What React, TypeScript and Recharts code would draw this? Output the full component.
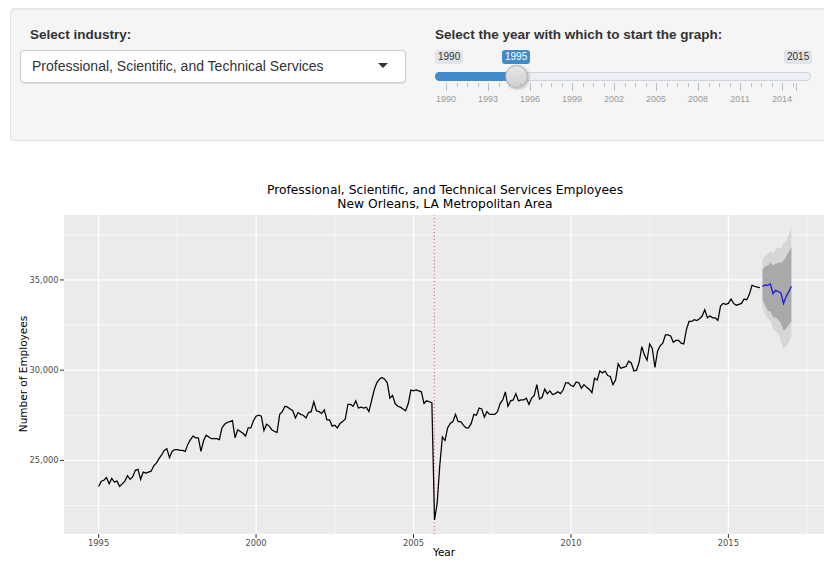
import React from 'react';
import {
  ComposedChart,
  Line,
  Area,
  XAxis,
  YAxis,
  CartesianGrid,
  ReferenceLine,
} from 'recharts';

// Monthly employees, Jan 1995 .. Jan 2016
const emp1995_1999 = [
  23550, 23850, 23900, 24050, 23700, 24000, 23800, 23850, 23550, 23700, 23850, 24150,
  23950, 24100, 24450, 24500, 23950, 24350, 24300, 24350, 24400, 24700, 24850, 25100,
  25300, 25550, 25650, 25150, 25500, 25600, 25600, 25550, 25550, 25500, 25900, 26150,
  26350, 26250, 26250, 25500, 26100, 26400, 26300, 26200, 26200, 26200, 26150, 26800,
  27000, 27100, 27150, 27200, 26250, 26700, 26600, 26500, 26350, 26800, 26800, 27200,
];
const emp2000_2004 = [
  27450, 27500, 27450, 26650, 27000, 26900, 26700, 26600, 26550, 27550, 27700, 28000,
  27950, 27850, 27750, 27350, 27650, 27550, 27500, 27350, 27650, 27700, 28250, 27750,
  27700, 27600, 27800, 27250, 27250, 26900, 26950, 26800, 27050, 27150, 27300, 28100,
  28100, 28000, 28300, 27900, 27950, 27900, 27950, 27700, 28300, 28900, 29300, 29500,
  29600, 29500, 29300, 28450, 28600, 28150, 28000, 27950, 27850, 27750, 28150, 28900,
];
const emp2005_2009 = [
  28850, 28900, 28850, 28800, 28150, 28300, 28250, 28200, 21700, 22600, 24700, 26300,
  26100, 26800, 27050, 27150, 27550, 27150, 27150, 26950, 26800, 26800, 27050, 27550,
  27500, 27900, 27850, 27400, 27700, 27550, 27550, 27550, 27700, 28150, 28350, 28800,
  28000, 28300, 28350, 28700, 28300, 28350, 28350, 28450, 28100, 28450, 28600, 29200,
  28400, 28500, 28950, 28700, 28850, 28650, 28700, 28800, 28700, 28900, 29300, 29300,
];
const emp2010_2016 = [
  29150, 29100, 29350, 29300, 29000, 29200, 29050, 28950, 28750, 29550, 29450, 29950,
  29850, 29950, 29700, 29650, 29200, 29450, 30350, 30100, 30150, 30200, 30500, 30400,
  29950, 30000, 30450, 31300, 30850, 30550, 31450, 31200, 30150, 31050, 31350, 31500,
  31950, 31950, 31900, 31550, 31650, 31650, 31500, 31450, 32250, 32700, 32700, 32800,
  32750, 32850, 33000, 33350, 32900, 33000, 32900, 32900, 32750, 33550, 33700, 33650,
  33700, 33950, 33700, 33600, 33650, 33700, 33950, 33900, 34200, 34700, 34650, 34600,
  34580,
];

// Forecast Feb 2016 .. Jan 2017
const forecastMean = [34650, 34720, 34700, 34780, 34250, 34420, 34350, 34280, 33700, 34080, 34350, 34650];
const hi80 = [35600, 35750, 35800, 35950, 35800, 35900, 35950, 35950, 36050, 36300, 36550, 36800];
const lo80 = [33900, 33600, 33300, 33250, 32950, 32900, 32800, 32600, 32200, 32300, 32550, 32700];
const hi95 = [36100, 36350, 36450, 36600, 36500, 36700, 36800, 36750, 37050, 37150, 37500, 37850];
const lo95 = [33500, 33100, 32850, 32750, 32300, 32150, 32000, 31650, 31200, 31300, 31550, 31900];

const xTicks = [1995, 2000, 2005, 2010, 2015];
const xMinor = [1997.5, 2002.5, 2007.5, 2012.5, 2017.5];
const yTicks = [25000, 30000, 35000];
const yMinor = [22500, 27500, 32500, 37500];
const katrina = 2005.66;

const sliderLabels = [1990, 1993, 1996, 1999, 2002, 2005, 2008, 2011, 2014];

const titleLines = [
  'Professional, Scientific, and Technical Services Employees',
  'New Orleans, LA Metropolitan Area',
];

const historical = [...emp1995_1999, ...emp2000_2004, ...emp2005_2009, ...emp2010_2016];

const data: any[] = [
  ...historical.map((v, i) => ({ t: 1995 + i / 12, value: v })),
  ...forecastMean.map((v, i) => ({
    t: 2016 + (i + 1) / 12,
    fc: v,
    band80: [lo80[i], hi80[i]],
    band95: [lo95[i], hi95[i]],
  })),
];

const fmt = (v: number) => v.toLocaleString('en-US');

const uiFont = '"Liberation Sans", Arial, Helvetica, sans-serif';
const chartFont = '"DejaVu Sans", sans-serif';

// slider geometry
const sx0 = 446;
const perYear = 14;
const sx = (y: number) => sx0 + (y - 1990) * perYear;

function Slider() {
  const ticks: React.ReactNode[] = [];
  for (let k = 0; k <= 33; k++) {
    const yr = 1990 + k * 0.75;
    if (yr > 2015) break;
    const major = k % 4 === 0;
    ticks.push(
      <div
        key={k}
        style={{
          position: 'absolute',
          left: sx(yr),
          top: 83,
          width: 1,
          height: major ? 8 : 4,
          background: '#b4c0cf',
        }}
      />
    );
  }
  ticks.push(
    <div key="end" style={{ position: 'absolute', left: sx(2015), top: 83, width: 1, height: 8, background: '#b4c0cf' }} />
  );
  return (
    <>
      <div
        style={{
          position: 'absolute', left: 435, top: 50, height: 14, lineHeight: '14px', padding: '0 3px',
          background: '#e1e4e9', color: '#333', fontSize: 10, borderRadius: 3, fontFamily: uiFont,
        }}
      >
        1990
      </div>
      <div
        style={{
          position: 'absolute', left: 502, top: 50, height: 14, lineHeight: '14px', padding: '0 3px',
          background: '#428bca', color: '#fff', fontSize: 10, borderRadius: 3, fontFamily: uiFont,
        }}
      >
        1995
      </div>
      <div
        style={{
          position: 'absolute', left: 784, top: 50, height: 14, lineHeight: '14px', padding: '0 3px',
          background: '#e1e4e9', color: '#333', fontSize: 10, borderRadius: 3, fontFamily: uiFont,
        }}
      >
        2015
      </div>
      <div
        style={{
          position: 'absolute', left: 435, top: 72, width: 374, height: 7,
          background: '#eceff3', border: '1px solid #cfd5dc', borderRadius: 5,
        }}
      />
      <div
        style={{
          position: 'absolute', left: 435, top: 72, width: sx(1995) - 435, height: 9,
          background: '#428bca', borderRadius: '5px 0 0 5px',
        }}
      />
      <div
        style={{
          position: 'absolute', left: sx(1995) - 11, top: 65, width: 21, height: 21, borderRadius: '50%',
          background: 'linear-gradient(#e6e6e6, #cfcfcf)', border: '1px solid #aaa',
          boxShadow: '1px 1px 3px rgba(0,0,0,0.25)',
        }}
      />
      {ticks}
      {sliderLabels.map((y) => (
        <div
          key={y}
          style={{
            position: 'absolute', left: sx(y) - 20, width: 40, top: 94, textAlign: 'center',
            fontSize: 9, color: '#9a9a9a', fontFamily: uiFont, lineHeight: '11px',
          }}
        >
          {y}
        </div>
      ))}
    </>
  );
}

export default function App() {
  return (
    <div
      style={{
        position: 'fixed', left: 0, top: 0, width: 824, height: 570, overflow: 'hidden', background: '#fff',
      }}
    >
      {/* input well */}
      <div
        style={{
          position: 'absolute', left: 10, top: 8, width: 840, height: 131, background: '#f5f5f5',
          border: '1px solid #e3e3e3', borderRadius: 4, boxShadow: 'inset 0 1px 1px rgba(0,0,0,0.05)',
        }}
      />
      <div
        style={{
          position: 'absolute', left: 30, top: 27, fontSize: 13.5, fontWeight: 'bold', lineHeight: '16px',
          color: '#333', fontFamily: uiFont, whiteSpace: 'nowrap',
        }}
      >
        Select industry:
      </div>
      <div
        style={{
          position: 'absolute', left: 20, top: 50, width: 384, height: 31, background: '#fff',
          border: '1px solid #cccccc', borderRadius: 4, boxShadow: '0 1px 1px rgba(0,0,0,0.08)',
        }}
      />
      <div
        style={{
          position: 'absolute', left: 32, top: 58, fontSize: 14, lineHeight: '16px', color: '#333',
          fontFamily: uiFont, whiteSpace: 'nowrap',
        }}
      >
        Professional, Scientific, and Technical Services
      </div>
      <div
        style={{
          position: 'absolute', left: 378, top: 63, width: 0, height: 0,
          borderLeft: '5px solid transparent', borderRight: '5px solid transparent', borderTop: '5px solid #333',
        }}
      />
      <div
        style={{
          position: 'absolute', left: 435, top: 27, fontSize: 13.5, fontWeight: 'bold', lineHeight: '16px',
          color: '#333', fontFamily: uiFont, whiteSpace: 'nowrap',
        }}
      >
        Select the year with which to start the graph:
      </div>
      <Slider />

      {/* chart title, two separate lines */}
      {titleLines.map((line, i) => (
        <div
          key={i}
          style={{
            position: 'absolute', left: 145, width: 600, top: 183 + i * 14.4, height: 14.4, textAlign: 'center',
            fontSize: 12.3, lineHeight: '14.4px', color: '#000', fontFamily: chartFont, whiteSpace: 'nowrap',
          }}
        >
          {line}
        </div>
      ))}

      <div style={{ position: 'absolute', left: 0, top: 160 }}>
        <ComposedChart
          width={830}
          height={410}
          data={data}
          margin={{ top: 55, right: 4, bottom: 0, left: 0 }}
        >
          <CartesianGrid
            fill="#ebebeb"
            stroke="#ffffff"
            strokeWidth={0.6}
            verticalValues={xMinor}
            horizontalValues={yMinor}
          />
          <CartesianGrid
            stroke="#ffffff"
            strokeWidth={1.2}
            verticalValues={xTicks}
            horizontalValues={yTicks}
          />
          <XAxis
            dataKey="t"
            type="number"
            domain={[1993.9, 2018.1]}
            allowDataOverflow
            ticks={xTicks}
            height={36}
            axisLine={false}
            tickSize={4}
            tickMargin={2}
            tickLine={{ stroke: '#333', strokeWidth: 1 }}
            tick={{ fill: '#4d4d4d', fontSize: 8.3, fontFamily: chartFont }}
          />
          <YAxis
            type="number"
            domain={[20920, 38600]}
            allowDataOverflow
            ticks={yTicks}
            width={64}
            axisLine={false}
            tickSize={4}
            tickMargin={1.5}
            tickFormatter={fmt}
            tickLine={{ stroke: '#333', strokeWidth: 1 }}
            tick={{ fill: '#4d4d4d', fontSize: 8.3, fontFamily: chartFont }}
          />
          <ReferenceLine
            x={katrina}
            stroke="#e04848"
            strokeWidth={1}
            strokeDasharray="1 2.5"
          />
          <Area
            dataKey="band95"
            type="linear"
            stroke="none"
            fill="#d6d6d6"
            fillOpacity={1}
            isAnimationActive={false}
          />
          <Area
            dataKey="band80"
            type="linear"
            stroke="none"
            fill="#a9a9a9"
            fillOpacity={1}
            isAnimationActive={false}
          />
          <Line
            dataKey="value"
            type="linear"
            stroke="#000"
            strokeWidth={1.25}
            dot={false}
            isAnimationActive={false}
          />
          <Line
            dataKey="fc"
            type="linear"
            stroke="#2323d9"
            strokeWidth={1.4}
            dot={false}
            isAnimationActive={false}
          />
        </ComposedChart>
      </div>

      {/* axis titles */}
      <div
        style={{
          position: 'absolute', left: 22.5, top: 374, transform: 'translate(-50%, -50%) rotate(-90deg)',
          fontSize: 10.5, color: '#000', fontFamily: chartFont, whiteSpace: 'nowrap', lineHeight: '12px',
        }}
      >
        Number of Employees
      </div>
      <div
        style={{
          position: 'absolute', left: 394, width: 100, top: 546, textAlign: 'center', fontSize: 10.5,
          color: '#000', fontFamily: chartFont, lineHeight: '12px',
        }}
      >
        Year
      </div>
    </div>
  );
}
